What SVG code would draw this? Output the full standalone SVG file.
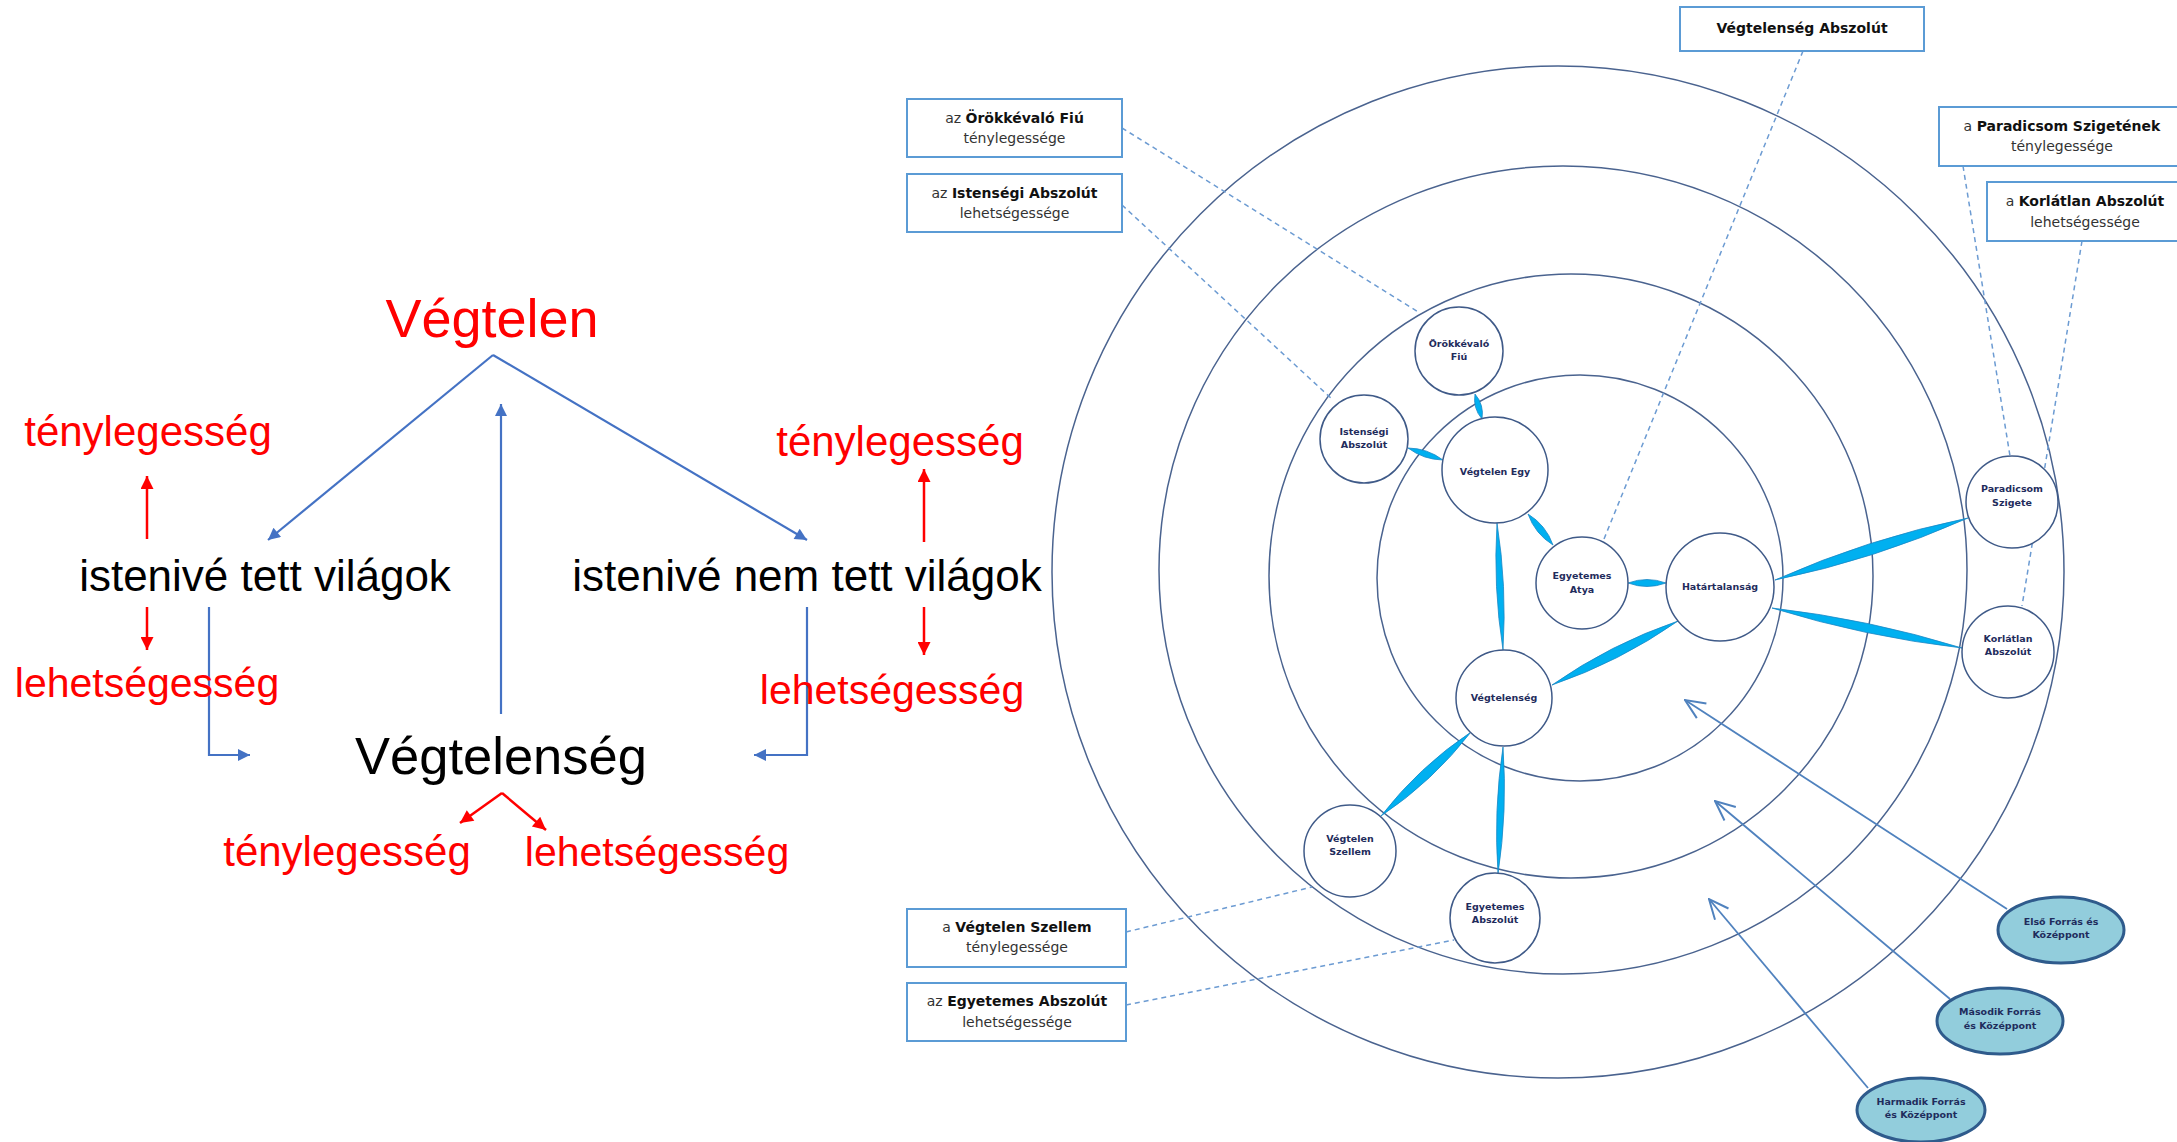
<svg xmlns="http://www.w3.org/2000/svg" width="2177" height="1142" viewBox="0 0 2177 1142">
<defs>
<style>
.big{font-family:"Liberation Sans",Arial,sans-serif;text-anchor:middle}
.red{fill:#FF0000}
.blk{fill:#000}
.ring{fill:none;stroke:#4A638F;stroke-width:1.5}
.node{fill:#fff;stroke:#3F5A88;stroke-width:1.5}
.src{fill:#92CDDC;stroke:#2F5B8C;stroke-width:3}
.nt{font-family:"DejaVu Sans",Verdana,sans-serif;font-weight:bold;font-size:9.5px;fill:#1F2C5C;text-anchor:middle}
.box{fill:#fff;stroke:#5B9BD5;stroke-width:2}
.bt{font-family:"DejaVu Sans",Verdana,sans-serif;font-size:14px;fill:#333;text-anchor:middle}
.bt tspan.b{font-weight:bold;fill:#111}
.lead{fill:none;stroke:#6C9BD2;stroke-width:1.5;stroke-dasharray:5,4}
.lens{fill:#00B0F0;stroke:#1A86C4;stroke-width:0.8}
.bl{fill:none;stroke:#4472C4;stroke-width:2.2}
.rl{fill:none;stroke:#FF0000;stroke-width:2.5}
.sa{fill:none;stroke:#5082BE;stroke-width:1.8}
</style>
<marker id="ab" viewBox="0 0 10 10" refX="10" refY="5" markerUnits="userSpaceOnUse" markerWidth="16" markerHeight="12" orient="auto"><path d="M0,0 L10,5 L0,10 z" fill="#4472C4"/></marker>
<marker id="ar" viewBox="0 0 10 10" refX="10" refY="5" markerUnits="userSpaceOnUse" markerWidth="17" markerHeight="13" orient="auto"><path d="M0,0 L10,5 L0,10 z" fill="#FF0000"/></marker>
<marker id="ao" viewBox="0 0 20 20" refX="19" refY="10" markerUnits="userSpaceOnUse" markerWidth="22" markerHeight="22" orient="auto"><path d="M1,2 L19,10 L1,18" fill="none" stroke="#5082BE" stroke-width="1.8"/></marker>
</defs>
<rect width="2177" height="1142" fill="#fff"/>

<!-- concentric rings -->
<g id="rings">
<circle class="ring" cx="1558" cy="572" r="506"/>
<circle class="ring" cx="1563" cy="570" r="404"/>
<circle class="ring" cx="1571" cy="576" r="302"/>
<circle class="ring" cx="1580" cy="578" r="203"/>
</g>

<g id="connectors">
<!-- left side -->
<path class="bl" d="M493,355 L268,540" marker-end="url(#ab)"/>
<path class="bl" d="M493,355 L807,540" marker-end="url(#ab)"/>
<path class="bl" d="M501,714 L501,404" marker-end="url(#ab)"/>
<path class="bl" d="M209,607 L209,755 L250,755" marker-end="url(#ab)"/>
<path class="bl" d="M807,607 L807,755 L754,755" marker-end="url(#ab)"/>
<path class="rl" d="M147,539 L147,476" marker-end="url(#ar)"/>
<path class="rl" d="M147,607 L147,650" marker-end="url(#ar)"/>
<path class="rl" d="M924,542 L924,469" marker-end="url(#ar)"/>
<path class="rl" d="M924,607 L924,655" marker-end="url(#ar)"/>
<path class="rl" d="M502,793 L460,823" marker-end="url(#ar)"/>
<path class="rl" d="M502,793 L546,830" marker-end="url(#ar)"/>
<!-- leader lines -->
<path class="lead" d="M1122,128 L1420,313"/>
<path class="lead" d="M1122,205 L1333,400"/>
<path class="lead" d="M1803,51 L1604,539"/>
<path class="lead" d="M1963,166 L2010,456"/>
<path class="lead" d="M2082,241 L2022,606"/>
<path class="lead" d="M1126,932 L1312,887"/>
<path class="lead" d="M1126,1005 L1454,940"/>
<!-- lenses -->
<path class="lens" d="M1475,394 Q1472.7,408.1 1482,419 Q1484.3,404.9 1475,394 Z"/>
<path class="lens" d="M1408,448 Q1423.6,459.7 1443,460 Q1427.4,448.3 1408,448 Z"/>
<path class="lens" d="M1528,514 Q1535,533.9 1553,545 Q1546,525.1 1528,514 Z"/>
<path class="lens" d="M1628,583 Q1647,590 1666,583 Q1647,576 1628,583 Z"/>
<path class="lens" d="M1497,523 Q1493,586.8 1503,650 Q1507,586.2 1497,523 Z"/>
<path class="lens" d="M1678,621 Q1610.5,644.1 1552,685 Q1619.5,661.9 1678,621 Z"/>
<path class="lens" d="M1775,580 Q1874.9,559.5 1968,518 Q1868.1,538.5 1775,580 Z"/>
<path class="lens" d="M1772,608 Q1865.1,636.8 1962,648 Q1868.9,619.2 1772,608 Z"/>
<path class="lens" d="M1471,732 Q1419.2,766.7 1381,816 Q1432.8,781.3 1471,732 Z"/>
<path class="lens" d="M1503,747 Q1493.5,810.2 1498,874 Q1507.5,810.8 1503,747 Z"/>
<!-- source arrows -->
<path class="sa" d="M2007,909 L1685,700" marker-end="url(#ao)"/>
<path class="sa" d="M1950,999 L1715,801" marker-end="url(#ao)"/>
<path class="sa" d="M1868,1088 L1709,899" marker-end="url(#ao)"/>
</g>

<!-- left side texts -->
<g id="vegtelen"><text class="big red" x="492" y="337" font-size="54">Végtelen</text></g>
<g id="teny-left"><text class="big red" x="148" y="446" font-size="42">ténylegesség</text></g>
<g id="istenive-tett"><text class="big blk" x="265" y="591" font-size="44">istenivé tett világok</text></g>
<g id="leh-left"><text class="big red" x="147" y="697" font-size="41">lehetségesség</text></g>
<g id="teny-right"><text class="big red" x="900" y="456" font-size="42">ténylegesség</text></g>
<g id="istenive-nem"><text class="big blk" x="807" y="591" font-size="44">istenivé nem tett világok</text></g>
<g id="leh-right"><text class="big red" x="892" y="704" font-size="41">lehetségesség</text></g>
<g id="vegtelenseg"><text class="big blk" x="501" y="774" font-size="52.5">Végtelenség</text></g>
<g id="teny-bottom"><text class="big red" x="347" y="866" font-size="42">ténylegesség</text></g>
<g id="leh-bottom"><text class="big red" x="657" y="866" font-size="41">lehetségesség</text></g>

<!-- circle nodes -->
<g id="n-fiu"><circle class="node" cx="1459" cy="351" r="44"/><text class="nt" x="1459" y="347">Örökkévaló</text><text class="nt" x="1459" y="360">Fiú</text></g>
<g id="n-istensegi"><circle class="node" cx="1364" cy="439" r="44"/><text class="nt" x="1364" y="435">Istenségi</text><text class="nt" x="1364" y="448">Abszolút</text></g>
<g id="n-egy"><circle class="node" cx="1495" cy="470" r="53"/><text class="nt" x="1495" y="475">Végtelen Egy</text></g>
<g id="n-atya"><circle class="node" cx="1582" cy="583" r="46"/><text class="nt" x="1582" y="579">Egyetemes</text><text class="nt" x="1582" y="593">Atya</text></g>
<g id="n-hatar"><circle class="node" cx="1720" cy="587" r="54"/><text class="nt" x="1720" y="590">Határtalanság</text></g>
<g id="n-vegtelenseg"><circle class="node" cx="1504" cy="698" r="48"/><text class="nt" x="1504" y="701">Végtelenség</text></g>
<g id="n-paradicsom"><circle class="node" cx="2012" cy="502" r="46"/><text class="nt" x="2012" y="492">Paradicsom</text><text class="nt" x="2012" y="506">Szigete</text></g>
<g id="n-korlatlan"><circle class="node" cx="2008" cy="652" r="46"/><text class="nt" x="2008" y="642">Korlátlan</text><text class="nt" x="2008" y="655">Abszolút</text></g>
<g id="n-szellem"><circle class="node" cx="1350" cy="851" r="46"/><text class="nt" x="1350" y="842">Végtelen</text><text class="nt" x="1350" y="855">Szellem</text></g>
<g id="n-egyabsz"><circle class="node" cx="1495" cy="918" r="45"/><text class="nt" x="1495" y="910">Egyetemes</text><text class="nt" x="1495" y="923">Abszolút</text></g>

<!-- source nodes -->
<g id="s-elso"><ellipse class="src" cx="2061" cy="930" rx="63" ry="33"/><text class="nt" x="2061" y="925">Első Forrás és</text><text class="nt" x="2061" y="938">Középpont</text></g>
<g id="s-masodik"><ellipse class="src" cx="2000" cy="1021" rx="63" ry="33"/><text class="nt" x="2000" y="1015">Második Forrás</text><text class="nt" x="2000" y="1029">és Középpont</text></g>
<g id="s-harmadik"><ellipse class="src" cx="1921" cy="1110" rx="64" ry="32"/><text class="nt" x="1921" y="1105">Harmadik Forrás</text><text class="nt" x="1921" y="1118">és Középpont</text></g>

<!-- label boxes -->
<g id="b-vabsz"><rect class="box" x="1680" y="7" width="244" height="44"/><text class="bt" x="1802" y="33"><tspan class="b">Végtelenség Abszolút</tspan></text></g>
<g id="b-fiu"><rect class="box" x="907" y="99" width="215" height="58"/><text class="bt" x="1014.5" y="123">az <tspan class="b">Örökkévaló Fiú</tspan></text><text class="bt" x="1014.5" y="143">ténylegessége</text></g>
<g id="b-istensegi"><rect class="box" x="907" y="174" width="215" height="58"/><text class="bt" x="1014.5" y="198">az <tspan class="b">Istenségi Abszolút</tspan></text><text class="bt" x="1014.5" y="218">lehetségessége</text></g>
<g id="b-paradicsom"><rect class="box" x="1939" y="107" width="260" height="59"/><text class="bt" x="2062" y="131">a <tspan class="b">Paradicsom Szigetének</tspan></text><text class="bt" x="2062" y="151">ténylegessége</text></g>
<g id="b-korlatlan"><rect class="box" x="1987" y="182" width="210" height="59"/><text class="bt" x="2085" y="206">a <tspan class="b">Korlátlan Abszolút</tspan></text><text class="bt" x="2085" y="227">lehetségessége</text></g>
<g id="b-szellem"><rect class="box" x="907" y="909" width="219" height="58"/><text class="bt" x="1017" y="932">a <tspan class="b">Végtelen Szellem</tspan></text><text class="bt" x="1017" y="952">ténylegessége</text></g>
<g id="b-egyabsz"><rect class="box" x="907" y="983" width="219" height="58"/><text class="bt" x="1017" y="1006">az <tspan class="b">Egyetemes Abszolút</tspan></text><text class="bt" x="1017" y="1027">lehetségessége</text></g>
</svg>
